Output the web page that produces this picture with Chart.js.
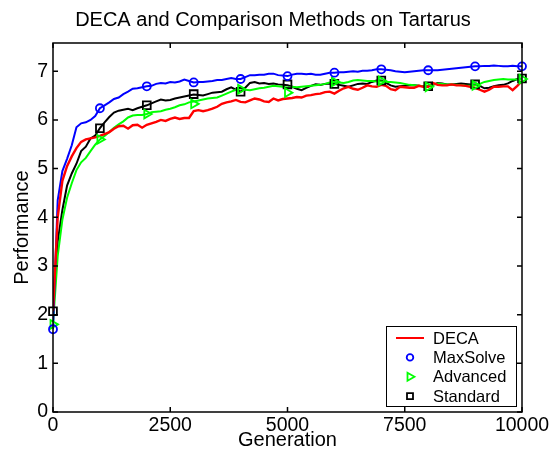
<!DOCTYPE html>
<html>
<head>
<meta charset="utf-8">
<title>DECA and Comparison Methods on Tartarus</title>
<script src="https://cdn.jsdelivr.net/npm/chart.js@4.4.1/dist/chart.umd.min.js"></script>
<style>
html, body { margin: 0; padding: 0; background: #fff; }
#contenedor { position: relative; width: 552px; height: 459px; }
</style>
</head>
<body>
<div id="contenedor"><canvas id="myChart" width="552" height="459"></canvas></div>
<script>
// generaciones muestreadas cada 100
const generations = [
    0, 100, 200, 300, 400, 500, 600, 700, 800, 900,
    1000, 1100, 1200, 1300, 1400, 1500, 1600, 1700, 1800, 1900,
    2000, 2100, 2200, 2300, 2400, 2500, 2600, 2700, 2800, 2900,
    3000, 3100, 3200, 3300, 3400, 3500, 3600, 3700, 3800, 3900,
    4000, 4100, 4200, 4300, 4400, 4500, 4600, 4700, 4800, 4900,
    5000, 5100, 5200, 5300, 5400, 5500, 5600, 5700, 5800, 5900,
    6000, 6100, 6200, 6300, 6400, 6500, 6600, 6700, 6800, 6900,
    7000, 7100, 7200, 7300, 7400, 7500, 7600, 7700, 7800, 7900,
    8000, 8100, 8200, 8300, 8400, 8500, 8600, 8700, 8800, 8900,
    9000, 9100, 9200, 9300, 9400, 9500, 9600, 9700, 9800, 9900,
    10000];

const deca = [
    2.07, 4.00, 4.75, 5.05, 5.25, 5.42, 5.55, 5.60, 5.62, 5.64,
    5.67, 5.71, 5.75, 5.82, 5.87, 5.88, 5.82, 5.89, 5.90, 5.84,
    5.90, 5.93, 5.96, 6.00, 5.98, 6.02, 6.05, 6.02, 6.04, 6.04,
    6.18, 6.20, 6.18, 6.20, 6.23, 6.27, 6.33, 6.36, 6.38, 6.41,
    6.37, 6.36, 6.40, 6.44, 6.42, 6.38, 6.37, 6.44, 6.40, 6.43,
    6.44, 6.45, 6.47, 6.46, 6.50, 6.51, 6.53, 6.54, 6.57, 6.58,
    6.54, 6.60, 6.65, 6.68, 6.64, 6.62, 6.66, 6.71, 6.69, 6.68,
    6.72, 6.70, 6.63, 6.61, 6.68, 6.67, 6.66, 6.66, 6.70, 6.68,
    6.68, 6.76, 6.72, 6.71, 6.71, 6.73, 6.71, 6.71, 6.70, 6.68,
    6.66, 6.62, 6.58, 6.62, 6.68, 6.68, 6.69, 6.69, 6.61, 6.70,
    6.80];

const maxSolve = [
    1.70, 4.35, 4.95, 5.20, 5.48, 5.85, 5.93, 5.95, 6.00, 6.08,
    6.24, 6.30, 6.36, 6.43, 6.46, 6.53, 6.58, 6.64, 6.65, 6.67,
    6.69, 6.70, 6.74, 6.76, 6.75, 6.78, 6.77, 6.79, 6.83, 6.80,
    6.77, 6.78, 6.78, 6.79, 6.80, 6.82, 6.82, 6.84, 6.86, 6.84,
    6.84, 6.88, 6.92, 6.92, 6.93, 6.93, 6.95, 6.95, 6.92, 6.91,
    6.90, 6.93, 6.95, 6.95, 6.94, 6.95, 6.93, 6.93, 6.95, 6.97,
    6.97, 6.98, 6.98, 6.99, 7.00, 6.99, 7.01, 7.01, 7.02, 7.04,
    7.04, 7.03, 7.02, 7.00, 6.99, 6.98, 6.99, 7.00, 7.01, 7.02,
    7.02, 7.02, 7.02, 7.03, 7.04, 7.05, 7.06, 7.07, 7.08, 7.09,
    7.10, 7.10, 7.11, 7.11, 7.12, 7.11, 7.10, 7.10, 7.11, 7.10,
    7.10];

const advanced = [
    1.80, 3.20, 3.95, 4.40, 4.70, 4.97, 5.13, 5.22, 5.36, 5.49,
    5.60, 5.67, 5.75, 5.84, 5.91, 5.97, 6.05, 6.09, 6.10, 6.10,
    6.12, 6.16, 6.17, 6.18, 6.21, 6.23, 6.26, 6.30, 6.32, 6.36,
    6.38, 6.40, 6.42, 6.44, 6.45, 6.46, 6.50, 6.54, 6.58, 6.62,
    6.65, 6.62, 6.61, 6.63, 6.65, 6.66, 6.68, 6.70, 6.69, 6.68,
    6.66, 6.68, 6.67, 6.68, 6.69, 6.70, 6.71, 6.72, 6.74, 6.77,
    6.78, 6.77, 6.76, 6.78, 6.81, 6.82, 6.81, 6.80, 6.80, 6.79,
    6.79, 6.78, 6.78, 6.77, 6.76, 6.74, 6.72, 6.71, 6.70, 6.69,
    6.68, 6.72, 6.75, 6.74, 6.73, 6.73, 6.72, 6.71, 6.70, 6.70,
    6.71, 6.74, 6.78, 6.80, 6.82, 6.83, 6.84, 6.83, 6.83, 6.83,
    6.84];

const standard = [
    2.07, 3.50, 4.15, 4.65, 4.90, 5.10, 5.36, 5.45, 5.62, 5.68,
    5.83, 5.95, 6.06, 6.15, 6.19, 6.21, 6.23, 6.20, 6.24, 6.27,
    6.30, 6.34, 6.38, 6.42, 6.40, 6.41, 6.44, 6.46, 6.48, 6.50,
    6.52, 6.51, 6.50, 6.53, 6.56, 6.57, 6.58, 6.63, 6.67, 6.62,
    6.58, 6.66, 6.76, 6.78, 6.75, 6.76, 6.74, 6.75, 6.73, 6.72,
    6.71, 6.68, 6.64, 6.61, 6.66, 6.70, 6.73, 6.72, 6.74, 6.75,
    6.74, 6.72, 6.70, 6.68, 6.71, 6.74, 6.75, 6.74, 6.78, 6.81,
    6.81, 6.76, 6.71, 6.68, 6.69, 6.70, 6.71, 6.71, 6.70, 6.69,
    6.69, 6.72, 6.76, 6.75, 6.73, 6.73, 6.74, 6.75, 6.74, 6.73,
    6.73, 6.70, 6.65, 6.66, 6.69, 6.71, 6.72, 6.75, 6.80, 6.84,
    6.85];

// marcadores cada 1000 generaciones
const markerGens = [0, 1000, 2000, 3000, 4000, 5000, 6000, 7000, 8000, 9000, 10000];
const maxSolveMarks = [1.70, 6.24, 6.69, 6.77, 6.84, 6.90, 6.97, 7.04, 7.02, 7.10, 7.10];
const advancedMarks = [1.80, 5.60, 6.12, 6.33, 6.63, 6.56, 6.78, 6.80, 6.68, 6.71, 6.84];
const standardMarks = [2.07, 5.83, 6.30, 6.53, 6.58, 6.73, 6.74, 6.81, 6.69, 6.73, 6.85];

const xTicks = [0, 2500, 5000, 7500, 10000];
const yTicks = [0, 1, 2, 3, 4, 5, 6, 7];

const titulo = 'DECA and Comparison Methods on Tartarus';
const fuente = "'Liberation Sans', Arial, Helvetica, sans-serif";
let myChart;

function puntos(xs, ys){
    let out = [];
    for(let i = 0; i < xs.length; i++){
        out.push({x: xs[i], y: ys[i]});
    }
    return out;
}

function serieLinea(datos, color, ancho){
    return {
        label: '_linea',
        data: puntos(generations, datos),
        borderColor: color,
        backgroundColor: color,
        borderWidth: ancho,
        pointRadius: 0,
        tension: 0,
        showLine: true
    };
}

function serieMarcas(nombre, datos, color, estilo, radio, rot){
    return {
        label: nombre,
        data: puntos(markerGens, datos),
        borderColor: color,
        backgroundColor: 'rgba(0,0,0,0)',
        borderWidth: 1.8,
        pointStyle: estilo,
        pointRadius: radio,
        pointRotation: rot,
        showLine: false,
        clip: false
    };
}

// simbolos de la leyenda
function dibujarSimbolo(ctx, tipo, color, x, y){
    ctx.strokeStyle = color;
    ctx.lineWidth = 1.8;
    ctx.beginPath();
    if(tipo == 'line'){
        ctx.lineWidth = 2;
        ctx.moveTo(x - 14, y);
        ctx.lineTo(x + 14, y);
    }else if(tipo == 'circle'){
        ctx.arc(x, y, 3.3, 0, Math.PI * 2);
    }else if(tipo == 'triangle'){
        ctx.moveTo(x + 4.5, y);
        ctx.lineTo(x - 2.5, y - 4);
        ctx.lineTo(x - 2.5, y + 4);
        ctx.closePath();
    }else{
        ctx.rect(x - 3, y - 3, 6, 6);
    }
    ctx.stroke();
}

const marcoPlugin = {
    id: 'marco',
    afterDatasetsDraw(chart){
        const ctx = chart.ctx;
        const a = chart.chartArea;
        const sx = chart.scales.x;
        const sy = chart.scales.y;
        ctx.save();
        ctx.strokeStyle = '#000';
        ctx.lineWidth = 1.5;
        ctx.strokeRect(a.left, a.top, a.right - a.left, a.bottom - a.top);
        ctx.beginPath();
        xTicks.forEach(function(v){
            let px = sx.getPixelForValue(v);
            ctx.moveTo(px, a.bottom); ctx.lineTo(px, a.bottom - 5);
            ctx.moveTo(px, a.top); ctx.lineTo(px, a.top + 5);
        });
        yTicks.forEach(function(v){
            let py = sy.getPixelForValue(v);
            ctx.moveTo(a.left, py); ctx.lineTo(a.left + 5, py);
            ctx.moveTo(a.right, py); ctx.lineTo(a.right - 5, py);
        });
        ctx.stroke();
        ctx.restore();
    },
    afterDraw(chart){
        const ctx = chart.ctx;
        const items = [
            {texto: 'DECA', tipo: 'line', color: '#ff0000'},
            {texto: 'MaxSolve', tipo: 'circle', color: '#0000ff'},
            {texto: 'Advanced', tipo: 'triangle', color: '#00ff00'},
            {texto: 'Standard', tipo: 'rect', color: '#000000'}
        ];
        ctx.save();
        // titulo
        ctx.fillStyle = '#000';
        ctx.font = '20px ' + fuente;
        ctx.textAlign = 'center';
        ctx.textBaseline = 'alphabetic';
        ctx.fillText(titulo, 273, 26);
        // leyenda
        ctx.textAlign = 'left';
        ctx.fillStyle = '#fff';
        ctx.fillRect(386, 326, 131, 81);
        ctx.strokeStyle = '#000';
        ctx.lineWidth = 1;
        ctx.strokeRect(386.5, 326.5, 130, 80);
        ctx.font = '16.5px ' + fuente;
        ctx.textBaseline = 'middle';
        for(let i = 0; i < items.length; i++){
            let y = 338 + i * 19.4;
            dibujarSimbolo(ctx, items[i].tipo, items[i].color, 410, y);
            ctx.fillStyle = '#000';
            ctx.fillText(items[i].texto, 433, y + 1);
        }
        ctx.restore();
    }
};

function crearGrafica(id){
    let ctx = document.getElementById(id);

    if(myChart){
        myChart.destroy();
    }

    myChart = new Chart(ctx, {
        type: 'scatter',
        data: {
            datasets: [
                serieMarcas('MaxSolve', maxSolveMarks, '#0000ff', 'circle', 4, 0),
                serieMarcas('Advanced', advancedMarks, '#00ff00', 'triangle', 5, 90),
                serieMarcas('Standard', standardMarks, '#000000', 'rect', 5.5, 0),
                serieLinea(deca, '#ff0000', 2.4),
                serieLinea(maxSolve, '#0000ff', 2),
                serieLinea(advanced, '#00ff00', 2),
                serieLinea(standard, '#000000', 2)
            ]
        },
        options: {
            responsive: false,
            animation: false,
            layout: { padding: { top: 43, right: 30, left: 0, bottom: 0 } },
            plugins: {
                legend: { display: false },
                tooltip: { enabled: false },
                title: { display: false }
            },
            scales: {
                x: {
                    type: 'linear',
                    min: 0,
                    max: 10000,
                    afterFit: function(s){ s.height = 47; },
                    afterBuildTicks: function(s){ s.ticks = xTicks.map(v => ({value: v})); },
                    grid: { display: false, drawTicks: false },
                    border: { display: false },
                    ticks: {
                        color: '#000',
                        font: { family: fuente, size: 19.5 },
                        padding: 2,
                        maxRotation: 0,
                        autoSkip: false,
                        callback: function(v){ return String(v); }
                    },
                    title: {
                        display: true,
                        text: 'Generation',
                        color: '#000',
                        font: { family: fuente, size: 20 },
                        padding: { top: 0, bottom: 7 }
                    }
                },
                y: {
                    type: 'linear',
                    min: 0,
                    max: 7.58,
                    afterFit: function(s){ s.width = 53; },
                    afterBuildTicks: function(s){ s.ticks = yTicks.map(v => ({value: v})); },
                    grid: { display: false, drawTicks: false },
                    border: { display: false },
                    ticks: {
                        color: '#000',
                        font: { family: fuente, size: 19.5 },
                        padding: 5,
                        callback: function(v){ return String(v); }
                    },
                    title: {
                        display: true,
                        text: 'Performance',
                        color: '#000',
                        font: { family: fuente, size: 20 },
                        padding: { top: 10, bottom: 0 }
                    }
                }
            }
        },
        plugins: [marcoPlugin]
    });
}

crearGrafica('myChart');
</script>
</body>
</html>
